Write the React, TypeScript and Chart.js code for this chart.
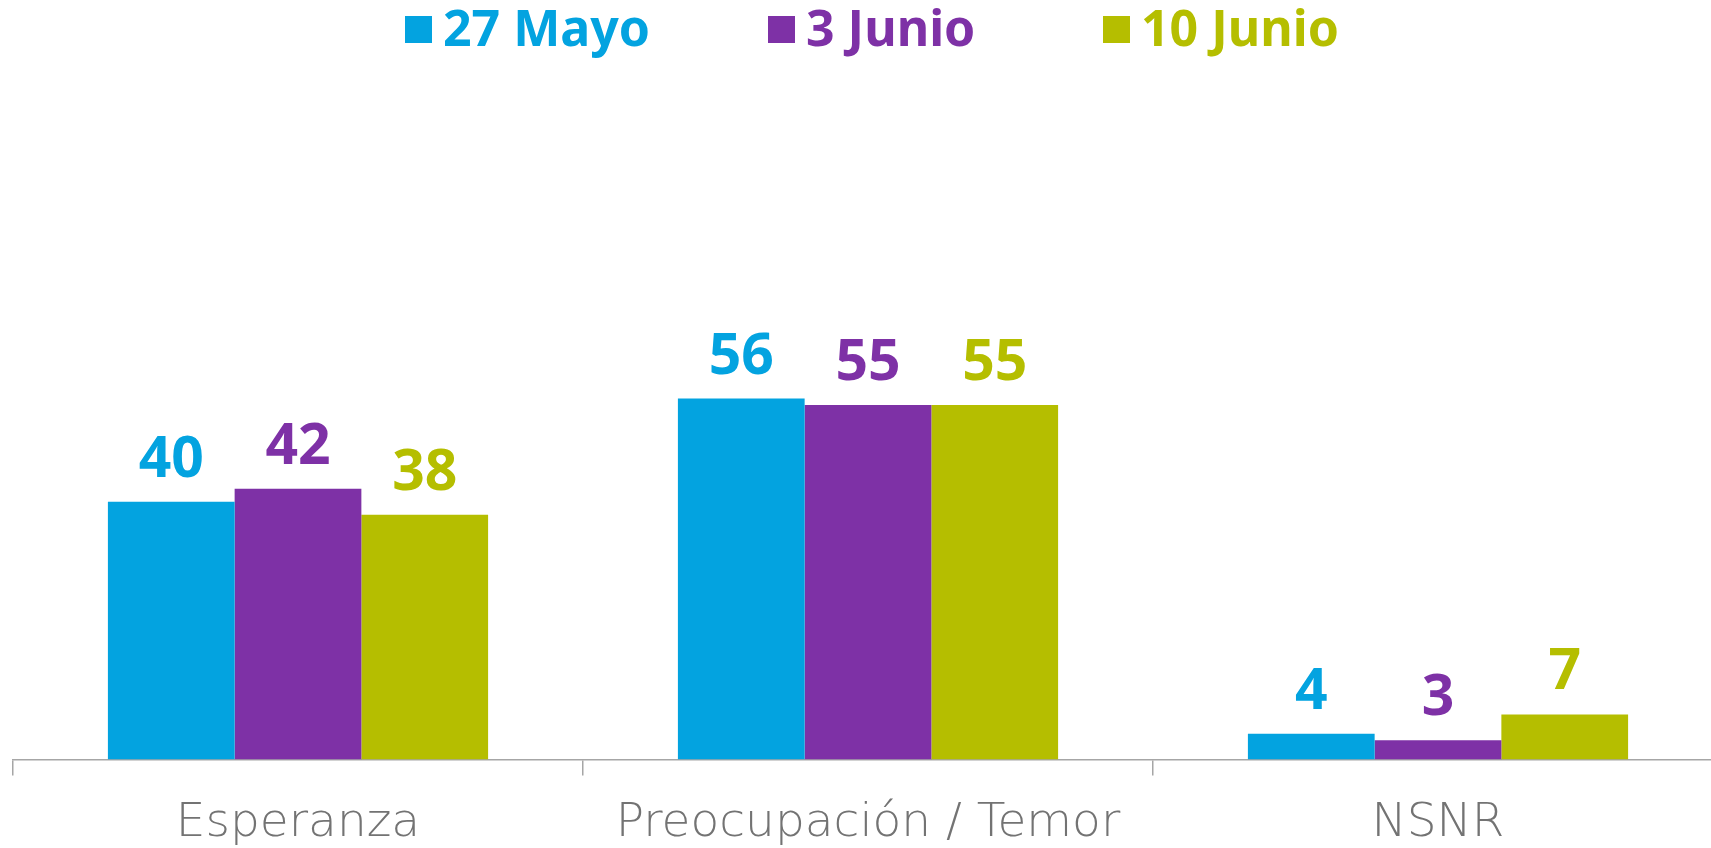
import React, { useEffect, useRef } from "react";
import { Chart, registerables } from "chart.js";

Chart.register(...registerables);

const categories = ["Esperanza", "Preocupación / Temor", "NSNR"];
const seriesNames = ["27 Mayo", "3 Junio", "10 Junio"];
const mayo27 = [40, 56, 4];
const junio3 = [42, 55, 3];
const junio10 = [38, 55, 7];
const colors = ["#03a3e0", "#7e31a6", "#b5be00"];

const legendLeft = [405, 768, 1103];

const valueLabelPlugin = {
  id: "valueLabels",
  afterDatasetsDraw(chart: any) {
    const ctx = chart.ctx;
    ctx.save();
    ctx.font = 'bold 57px "Noto Sans"';
    ctx.textAlign = "center";
    ctx.textBaseline = "alphabetic";
    chart.data.datasets.forEach((ds: any, di: number) => {
      const meta = chart.getDatasetMeta(di);
      ctx.fillStyle = ds.backgroundColor;
      meta.data.forEach((bar: any, i: number) => {
        ctx.fillText(String(ds.data[i]), bar.x, bar.y - 25);
      });
    });
    ctx.restore();
  },
};

export default function App() {
  const ref = useRef<HTMLCanvasElement | null>(null);

  useEffect(() => {
    document.body.style.margin = "0";
    document.body.style.overflow = "hidden";
    const chart = new Chart(ref.current as HTMLCanvasElement, {
      type: "bar",
      data: {
        labels: categories,
        datasets: [mayo27, junio3, junio10].map((d, i) => ({
          label: seriesNames[i],
          data: d,
          backgroundColor: colors[i],
          borderWidth: 0,
          barPercentage: 1,
          categoryPercentage: 0.667,
        })),
      },
      options: {
        animation: false,
        responsive: true,
        maintainAspectRatio: false,
        layout: { padding: { top: 115, left: 13, right: 0, bottom: 0 } },
        plugins: {
          legend: { display: false },
          tooltip: { enabled: false },
        },
        scales: {
          y: {
            display: false,
            min: 0,
            max: 100,
          },
          x: {
            grid: {
              display: true,
              offset: true,
              drawOnChartArea: false,
              drawTicks: true,
              tickLength: 16,
              color: "#a6a6a6",
              lineWidth: 1.5,
            },
            border: { display: true, color: "#a6a6a6", width: 1.5 },
            ticks: {
              color: "#737373",
              padding: 20,
              font: { family: '"DejaVu Sans"', size: 47, weight: 300 as any },
            },
          },
        },
      },
      plugins: [valueLabelPlugin],
    });
    return () => chart.destroy();
  }, []);

  return (
    <div
      style={{
        position: "absolute",
        left: 0,
        top: 0,
        width: 1711,
        height: 848,
        overflow: "hidden",
        background: "#ffffff",
      }}
    >
      <div style={{ position: "absolute", left: 0, top: 0, width: 1723, height: 872 }}>
        <canvas ref={ref} />
      </div>
      {seriesNames.map((name, i) => (
        <div key={name}>
          <div
            style={{
              position: "absolute",
              left: legendLeft[i],
              top: 16,
              width: 27,
              height: 27,
              background: colors[i],
            }}
          />
          <div
            style={{
              position: "absolute",
              left: legendLeft[i] + 38,
              top: 3,
              fontFamily: '"Noto Sans"',
              fontWeight: 700,
              fontSize: 50,
              lineHeight: "48px",
              color: colors[i],
              whiteSpace: "nowrap",
            }}
          >
            {name}
          </div>
        </div>
      ))}
    </div>
  );
}
